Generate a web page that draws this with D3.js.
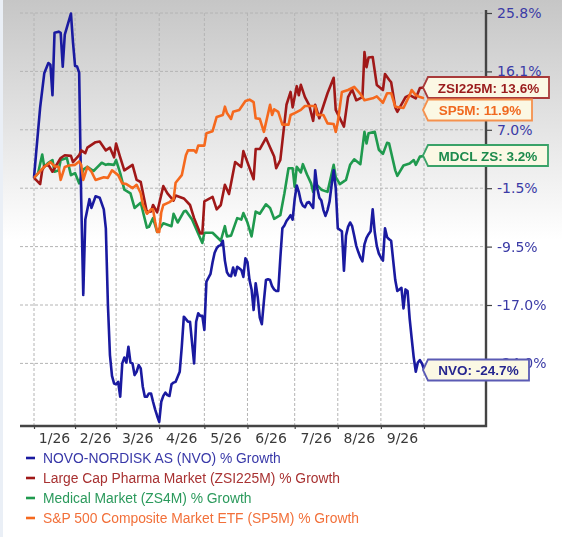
<!DOCTYPE html>
<html><head><meta charset="utf-8">
<style>html,body{margin:0;padding:0;background:#fff}svg{display:block;filter:blur(0.35px)}</style>
<script src="https://cdn.jsdelivr.net/npm/d3@7"></script></head><body>
<svg id="c" width="562" height="537"></svg>
<script>
const yTickValues=[25.8,16.1,7.0,-1.5,-9.5,-17.0,-24.0];
const yTickLabels=["25.8%","16.1%","7.0%","-1.5%","-9.5%","-17.0%","-24.0%"];
const monthDays=[0,20,40,61,83,104,127,148,169,190];
const monthLabels=["1/26","2/26","3/26","4/26","5/26","6/26","7/26","8/26","9/26"];
const legendLabels=["NOVO-NORDISK AS (NVO) % Growth","Large Cap Pharma Market (ZSI225M) % Growth","Medical Market (ZS4M) % Growth","S&P 500 Composite Market ETF (SP5M) % Growth"];
const calloutNames=["ZSI225M: 13.6%","SP5M: 11.9%","MDCL ZS: 3.2%","NVO: -24.7%"];

// [trading day, % growth]
const nvoGrowth=[[0,0],[1,3.5],[3,10.5],[5,15.8],[7,17.5],[8,17.2],[9,12.4],[10,22.5],[12,22.7],[13,22.5],[14,16.9],[15,22.2],[18,25.7],[19,20.9],[20,17],[21,16.9],[22,15.9],[23,-3],[24,-15.7],[25,-5.8],[27,-3],[28,-4.2],[30,-2.6],[32,-2.8],[34,-4.4],[35,-7],[36,-16.9],[37,-23],[38,-25.5],[39,-26.4],[40,-26.5],[41,-26.2],[42,-28],[43,-24],[44,-23.3],[45,-23.9],[46,-22],[47,-23.9],[48,-24],[49,-25.4],[50,-25],[51,-24.2],[52,-24.6],[53,-26.8],[54,-28],[55,-28],[56,-27.6],[57,-27.6],[58,-28.6],[59,-29.5],[60,-30.3],[61,-31],[62,-28.6],[63,-27.9],[64,-27.5],[65,-27.8],[66,-27.9],[67,-26.5],[68,-26.3],[69,-26.2],[70,-25.6],[71,-25],[72,-22],[73,-18.4],[74,-18.7],[75,-19],[76,-19],[77,-21.5],[78,-24],[79,-19],[80,-18],[81,-18.3],[82,-18.3],[83,-20],[84,-14],[85,-13.5],[86,-13],[87,-11.5],[88,-10.3],[89,-9.7],[90,-9.4],[91,-9.3],[92,-8.7],[93,-11.3],[94,-12.8],[95,-13.2],[96,-13.3],[97,-12.2],[98,-13.2],[99,-12.1],[100,-12.3],[101,-12.5],[102,-13.4],[103,-11],[104,-11.5],[105,-13.8],[106,-15],[107,-17.6],[108,-14.2],[109,-16],[110,-18.5],[111,-19.3],[112,-16.5],[113,-13.8],[114,-13.7],[115,-13.8],[116,-14.6],[117,-15],[118,-15.2],[119,-15.2],[120,-11],[121,-7],[122,-6.6],[123,-6],[124,-5.6],[125,-5.2],[126,-5.8],[127,-3],[128,-1.1],[129,-2],[130,-3.3],[131,-3.9],[132,-4.1],[133,-3.5],[134,-3.4],[135,-3.8],[136,-4.2],[137,1.1],[138,-1.5],[139,-2.8],[140,-3.2],[141,-4.5],[142,-5.3],[143,-4.5],[144,-3.3],[145,-1],[146,1.1],[147,-1.5],[148,-7],[149,-7.2],[150,-7.4],[151,-12.6],[152,-8],[153,-6.8],[154,-6.2],[155,-6.7],[156,-8],[157,-9.4],[158,-10.2],[159,-10.9],[160,-11.4],[161,-9.2],[162,-8.3],[163,-7.8],[164,-7.4],[165,-4.4],[166,-7.5],[167,-9.4],[168,-10.4],[169,-10.9],[170,-11.3],[171,-7],[172,-8.2],[173,-8.5],[174,-8.7],[175,-11.3],[176,-13.8],[177,-15.2],[178,-15],[179,-14.8],[180,-17.4],[181,-15],[182,-15.2],[183,-18.6],[184,-21],[185,-23.3],[186,-25],[187,-23.9],[188,-23.6],[189,-24],[190,-24.7]];

const zsiGrowth=[[0,0],[1,-0.3],[3,-0.9],[4,1.1],[5,1.7],[7,1.9],[9,0.9],[13,2.9],[15,3.3],[18,3.2],[19,2.3],[22,3.3],[23,4],[25,3.6],[26,4.4],[30,5.2],[32,5.3],[35,4],[37,4.4],[39,3],[40,5],[42,3],[44,1.1],[48,1.9],[50,-0.3],[52,-0.6],[55,-4.8],[57,-4.7],[58,-3.8],[60,-4.8],[63,-1.2],[65,-2.2],[68,-3.2],[69,-2.5],[73,-2.9],[76,-3.8],[78,-5.6],[81,-7.7],[82,-7.7],[83,-3.3],[87,-2.7],[89,-4.4],[91,-3.8],[93,-1],[95,-2.3],[98,2.3],[101,1.6],[102,3.9],[107,-0.2],[108,4.2],[110,4.2],[113,5.8],[117,3.1],[118,1.4],[120,2.6],[123,10.9],[125,12.9],[126,10.5],[128,13.8],[129,12.4],[130,14],[132,12.1],[134,10.9],[136,8.4],[137,10.9],[139,8.8],[143,12.7],[146,15.1],[147,10.1],[151,7.5],[153,12.1],[155,13.3],[157,11.6],[160,12.1],[161,19.3],[162,16.8],[163,18.4],[165,18.5],[167,14],[170,13.2],[171,15.7],[173,14.8],[174,14.4],[176,10.5],[177,9.8],[181,12.1],[183,12.4],[186,11.9],[188,13.5],[190,13.6]];

const mdclGrowth=[[0,0],[2,0.7],[4,3.4],[5,1.6],[7,2.2],[9,2.6],[10,0.9],[12,1.1],[13,2.6],[16,2.9],[18,0.4],[20,0.7],[22,-0.8],[24,1.2],[26,1.6],[29,1],[31,1.6],[33,2.2],[35,1.9],[36,2],[39,1.9],[40,2.6],[42,0.7],[44,-1.7],[47,-2.2],[49,-4.2],[52,-3.5],[55,-6.9],[56,-6.8],[58,-5.6],[60,-7.5],[63,-6.3],[67,-6.7],[68,-5],[70,-6.2],[73,-4.7],[74,-4.6],[77,-5.8],[82,-9],[83,-7.6],[87,-7.6],[91,-8.7],[93,-6.7],[94,-8.1],[96,-8],[99,-5.6],[101,-5.8],[102,-4.9],[104,-6.2],[106,-8.1],[108,-4.7],[110,-5],[113,-3.7],[115,-4.2],[117,-5.7],[120,-5.2],[122,-2.2],[124,1.4],[126,1.4],[127,-1.3],[128,1.6],[130,0.8],[131,2],[133,0.5],[135,-0.8],[136,-2],[138,-1.1],[140,-1.7],[143,-2],[146,1.9],[147,0.1],[149,-0.9],[152,-0.3],[154,1.9],[156,2.7],[159,2],[161,6.7],[162,5],[163,6.5],[166,6.7],[168,4.1],[170,3.5],[172,5.1],[173,5],[176,1.1],[177,0.3],[180,1.8],[183,2.1],[185,2.6],[186,1.9],[188,3.1],[190,3.2]];

const spGrowth=[[0,0],[3,1],[5,1.6],[8,2.3],[10,1.7],[12,1.6],[13,-0.3],[15,1.6],[17,1.8],[20,1.9],[22,2.4],[23,1.9],[24,-0.3],[26,1.6],[28,0.9],[30,-0.3],[34,0.1],[36,0],[38,1.1],[41,0.4],[43,-0.8],[45,-0.9],[48,-1.5],[50,-1],[52,-2.2],[53,-3.7],[55,-5],[57,-4.4],[58,-4.4],[59,-6.1],[60,-7.5],[61,-7.5],[62,-4.8],[63,-3.8],[66,-3.4],[68,-3],[69,-0.7],[72,0.4],[74,3.3],[75,4],[78,4],[79,3.7],[80,4.7],[83,4.7],[84,6.5],[87,6.8],[89,9],[92,9.3],[93,10.6],[94,9.6],[96,8.7],[97,9.8],[100,10.1],[103,11.5],[105,11.7],[107,11.3],[108,8.8],[110,8.7],[112,6.7],[115,10.9],[116,9.3],[117,10.2],[119,9.8],[121,7.8],[124,7.8],[125,9.3],[127,9.6],[130,10.1],[132,10.7],[137,10.7],[138,9.3],[141,9.3],[143,8],[146,7.9],[147,6.7],[148,8.2],[150,12.9],[153,13.2],[156,13.7],[159,12.6],[161,11.6],[165,11.9],[167,12.2],[170,11.2],[172,12.7],[174,12.7],[176,10.6],[180,10.4],[183,12.4],[184,13.2],[186,12.4],[188,12.1],[190,11.9]];

const seriesData=[mdclGrowth,nvoGrowth,zsiGrowth,spGrowth];
const seriesColors=["#1f9a4e","#1a1aa0","#a01818","#f5691e"];
const legendColors=["#1a1aa0","#a01818","#1f9a4e","#f5691e"];
const legendText=["#3838a8","#a83232","#2b9a5c","#f2703a"];

const svg=d3.select("#c");
const defs=svg.append("defs");
const g=defs.append("linearGradient").attr("id","bg").attr("x1",0).attr("x2",0).attr("y1",0).attr("y2",1);
g.append("stop").attr("offset",0).attr("stop-color","#c6c6c6");
g.append("stop").attr("offset",1).attr("stop-color","#ffffff");
svg.append("rect").attr("x",3).attr("y",0).attr("width",559).attr("height",240).attr("fill","url(#bg)");
svg.append("rect").attr("x",0).attr("y",0).attr("width",3).attr("height",537).attr("fill","#eaeff6");

const plotLeft=20,plotRight=486,plotTop=13,plotBottom=426,step=58.4;
const x=d3.scaleLinear().domain([0,190]).range([34,424]);
const y=d3.scaleLinear().domain(yTickValues).range(yTickValues.map((_,i)=>plotTop+i*step));

// grid
svg.append("g").selectAll("line").data(yTickValues).join("line")
  .attr("x1",plotLeft).attr("x2",plotRight).attr("y1",d=>y(d)).attr("y2",d=>y(d))
  .attr("stroke","#b4b4b4").attr("stroke-dasharray","3,2");
svg.append("g").selectAll("line").data(monthDays).join("line")
  .attr("x1",d=>x(d)).attr("x2",d=>x(d)).attr("y1",plotTop).attr("y2",plotBottom)
  .attr("stroke","#b4b4b4").attr("stroke-dasharray","3,2");

// axes
const xAxis=svg.append("g").attr("transform",`translate(0,${plotBottom})`)
  .call(d3.axisBottom(x).tickValues(monthDays).tickSize(3).tickFormat(""));
xAxis.select(".domain").remove();
xAxis.selectAll("line").attr("stroke","#444").attr("stroke-width",1.2);
const yAxis=svg.append("g").attr("transform",`translate(${plotRight},0)`)
  .call(d3.axisRight(y).tickValues(yTickValues).tickSize(6).tickFormat((d,i)=>yTickLabels[i]));
yAxis.select(".domain").remove();
yAxis.selectAll("line").attr("stroke","#444").attr("stroke-width",1.2);
yAxis.selectAll("text").attr("x",11).attr("font-family","DejaVu Sans").attr("font-size",14).attr("fill","#3b3ba6");
svg.append("path").attr("d",`M${plotLeft},${plotBottom}H${plotRight}V10`).attr("fill","none").attr("stroke","#444").attr("stroke-width",2.4);

svg.append("g").selectAll("text").data(monthLabels).join("text")
  .attr("x",(d,i)=>(x(monthDays[i])+x(monthDays[i+1]))/2).attr("y",443)
  .attr("text-anchor","middle").attr("font-family","DejaVu Sans").attr("font-size",14).attr("fill","#3a3a3a")
  .text(d=>d);

// lines
const line=d3.line().x(d=>x(d[0])).y(d=>y(d[1]));
svg.append("g").selectAll("path").data(seriesData).join("path")
  .attr("d",line).attr("fill","none").attr("stroke",(d,i)=>seriesColors[i])
  .attr("stroke-width",2.6).attr("stroke-linejoin","round");

// callouts
const calloutY=[87.5,110,155.5,370];
const calloutRight=[549,532,548,529];
const calloutFill=["#a83a3a","#f5914e","#3aa268","#5a5ab4"];
const calloutInk=["#9a1c1c","#f0691f","#1c8a4c","#26268f"];
const co=svg.append("g").selectAll("g").data(calloutNames).join("g");
co.append("path").attr("d",(d,i)=>{
  const c=calloutY[i],r=calloutRight[i],t=x(190)-1,l=t+5;
  return `M${t},${c}L${l},${c-10.5}H${r}V${c+10.5}H${l}Z`;
}).attr("fill","#fbf8e4").attr("stroke",(d,i)=>calloutFill[i]).attr("stroke-width",1.8);
co.append("text").attr("x",(d,i)=>(x(190)+4+calloutRight[i])/2).attr("y",(d,i)=>calloutY[i]+5)
  .attr("text-anchor","middle").attr("font-family","Liberation Sans").attr("font-size",13.5).attr("font-weight",700)
  .attr("fill",(d,i)=>calloutInk[i]).text(d=>d);

// legend
const lg=svg.append("g").selectAll("g").data(legendLabels).join("g")
  .attr("transform",(d,i)=>`translate(0,${458+i*20})`);
lg.append("line").attr("x1",26).attr("x2",35).attr("stroke",(d,i)=>legendColors[i]).attr("stroke-width",2.6);
lg.append("text").attr("x",43).attr("y",5).attr("font-family","Liberation Sans").attr("font-size",13.85)
  .attr("fill",(d,i)=>legendText[i]).text(d=>d);
</script></body></html>
